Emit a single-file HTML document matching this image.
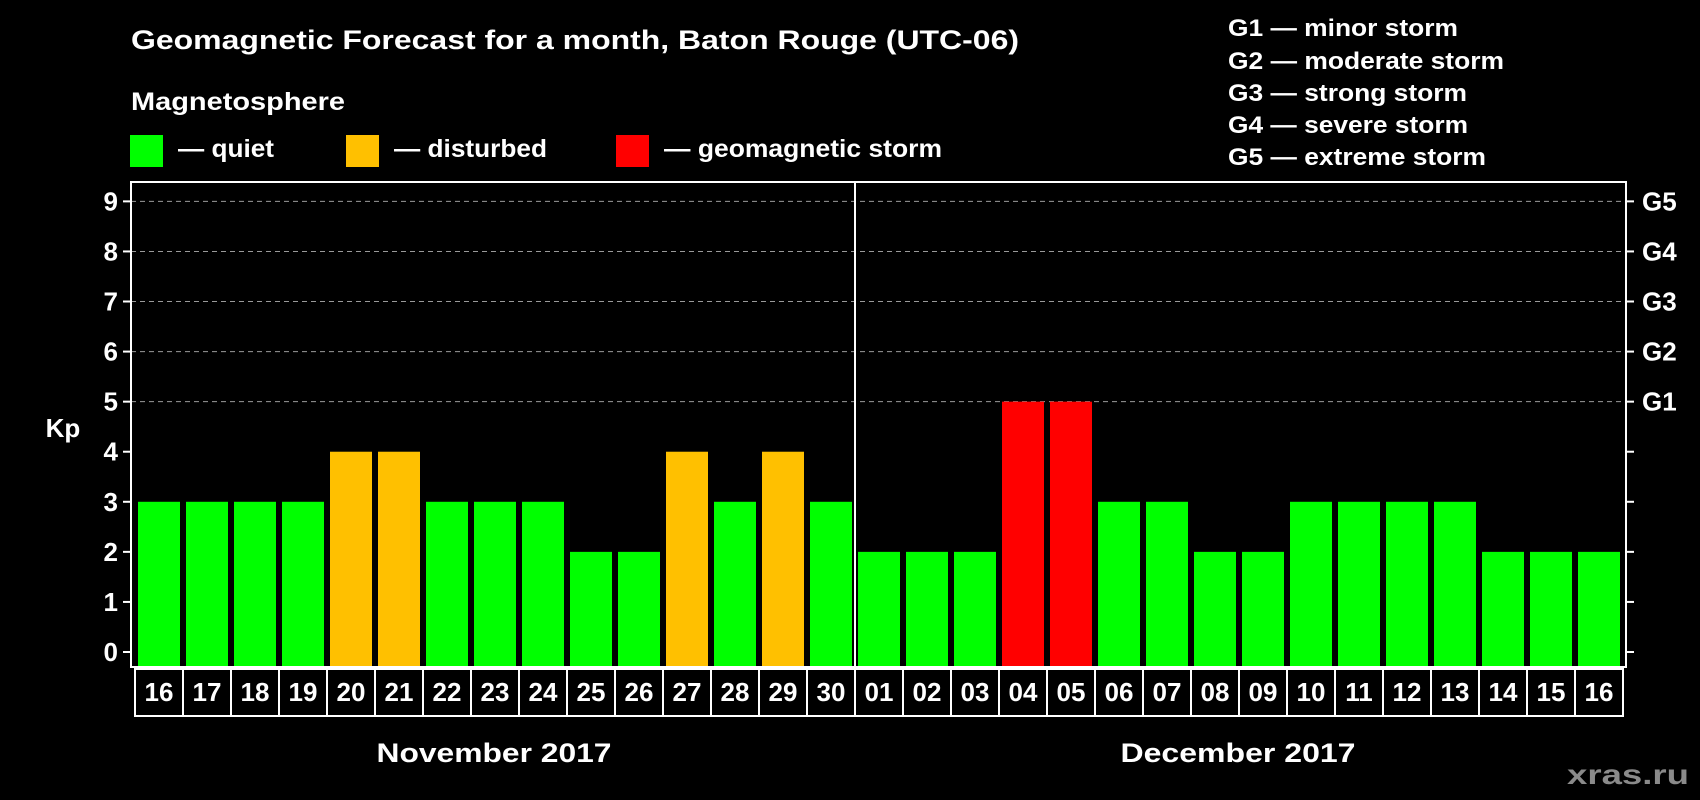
<!DOCTYPE html>
<html><head><meta charset="utf-8"><style>
html,body{margin:0;padding:0;background:#000;}
svg{display:block;font-family:"Liberation Sans",Arial,sans-serif;font-weight:bold;}
</style></head><body>
<svg id="chart" width="1700" height="800" viewBox="0 0 1700 800">
<rect width="1700" height="800" fill="#000"/>
<text x="131" y="49" fill="#fff" font-size="27" textLength="888" lengthAdjust="spacingAndGlyphs">Geomagnetic Forecast for a month, Baton Rouge (UTC-06)</text>
<text x="131" y="110" fill="#fff" font-size="25" textLength="214" lengthAdjust="spacingAndGlyphs">Magnetosphere</text>
<g>
<rect x="130" y="135" width="33" height="32" fill="#00ff00"/>
<text x="178" y="157" fill="#fff" font-size="25" textLength="96" lengthAdjust="spacingAndGlyphs">— quiet</text>
</g>
<g>
<rect x="346" y="135" width="33" height="32" fill="#ffc000"/>
<text x="394" y="157" fill="#fff" font-size="25" textLength="153" lengthAdjust="spacingAndGlyphs">— disturbed</text>
</g>
<g>
<rect x="616" y="135" width="33" height="32" fill="#ff0000"/>
<text x="664" y="157" fill="#fff" font-size="25" textLength="278" lengthAdjust="spacingAndGlyphs">— geomagnetic storm</text>
</g>
<g font-size="24" fill="#fff">
<text x="1228" y="36" textLength="230" lengthAdjust="spacingAndGlyphs">G1 — minor storm</text>
<text x="1228" y="69" textLength="276" lengthAdjust="spacingAndGlyphs">G2 — moderate storm</text>
<text x="1228" y="101" textLength="239" lengthAdjust="spacingAndGlyphs">G3 — strong storm</text>
<text x="1228" y="133" textLength="240" lengthAdjust="spacingAndGlyphs">G4 — severe storm</text>
<text x="1228" y="165" textLength="258" lengthAdjust="spacingAndGlyphs">G5 — extreme storm</text>
</g>
<text x="63" y="437" fill="#fff" font-size="26" text-anchor="middle">Kp</text>
<g id="grid"></g>
<g id="bars"></g>
<g id="labels"></g>
<rect x="131" y="182" width="1495" height="485" fill="none" stroke="#fff" stroke-width="2"/>
<line x1="855" y1="182" x2="855" y2="667" stroke="#fff" stroke-width="2"/>
<text x="494" y="762" fill="#fff" font-size="27" text-anchor="middle" textLength="235" lengthAdjust="spacingAndGlyphs">November 2017</text>
<text x="1238" y="762" fill="#fff" font-size="27" text-anchor="middle" textLength="235" lengthAdjust="spacingAndGlyphs">December 2017</text>
<text x="1689" y="784" fill="#8a8a8a" font-size="28" text-anchor="end" textLength="122" lengthAdjust="spacingAndGlyphs">xras.ru</text>
</svg>
<script>
const days = ["16","17","18","19","20","21","22","23","24","25","26","27","28","29","30","01","02","03","04","05","06","07","08","09","10","11","12","13","14","15","16"];
const kpValues = [3,3,3,3,4,4,3,3,3,2,2,4,3,4,3,2,2,2,5,5,3,3,2,2,3,3,3,3,2,2,2];
const yTicks = [0,1,2,3,4,5,6,7,8,9];
const gLabels = ["G1","G2","G3","G4","G5"];
const gLevels = [5,6,7,8,9];
const NS = "http://www.w3.org/2000/svg";
const y0 = 652, unit = 50.07, plotBottom = 667;
function yScale(v){ return y0 - v*unit; }
function xScale(i){ return 138 + i*48; }
function mk(tag, attrs, parent){ const e=document.createElementNS(NS,tag); for(const k in attrs) e.setAttribute(k,attrs[k]); parent.appendChild(e); return e; }
const grid=document.getElementById('grid'), bars=document.getElementById('bars'), labels=document.getElementById('labels');
yTicks.forEach(v=>{
  const y=yScale(v);
  if(v>=5){
    const g=mk('line',{x1:131,x2:1626,y1:y,y2:y,stroke:'#9a9a9a','stroke-width':1,'stroke-dasharray':'5,4'},grid);
    
    
  }
  const tl=mk('line',{x1:123,x2:131,y1:y,y2:y,stroke:'#fff','stroke-width':2},grid);
  
  
  const tr=mk('line',{x1:1626,x2:1634,y1:y,y2:y,stroke:'#fff','stroke-width':2},grid);
  
  
  const t=mk('text',{x:118,y:y+9,fill:'#fff','font-size':26,'text-anchor':'end'},grid);
  t.textContent=v;
  
  
});
gLevels.forEach((lv,i)=>{
  const t=mk('text',{x:1642,y:yScale(lv)+9,fill:'#fff','font-size':26},grid);
  t.textContent=gLabels[i];
  
  
});
kpValues.forEach((v,i)=>{
  const col = v>=5 ? '#ff0000' : (v===4 ? '#ffc000' : '#00ff00');
  const top=yScale(v);
  const b=mk('rect',{x:xScale(i),y:top,width:42,height:plotBottom-top,fill:col},bars);
  
  
  const bx=135+i*48;
  const box=mk('rect',{x:bx,y:669,width:48,height:47,fill:'none',stroke:'#fff','stroke-width':2},labels);
  
  
  const t=mk('text',{x:bx+24,y:701,fill:'#fff','font-size':26,'text-anchor':'middle'},labels);
  t.textContent=days[i];
  
  
});
</script>
</body></html>
